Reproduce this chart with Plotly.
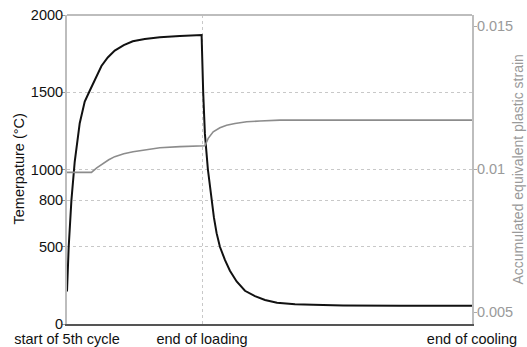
import plotly.graph_objects as go

# x positions: 0 = start of 5th cycle, 1 = end of loading, 3 = end of cooling
tick_vals_x = [0, 1, 3]
tick_text_x = ["start of 5th cycle", "end of loading", "end of cooling"]

time_T = [0.0, 0.0126, 0.0326, 0.0571, 0.0942, 0.1313, 0.1684, 0.2055, 0.2552, 0.3019,
          0.3538, 0.4206, 0.4874, 0.5764, 0.6877, 0.836, 0.997, 1.0088, 1.0214, 1.0437,
          1.0711, 1.0882, 1.1082, 1.1327, 1.1698, 1.2069, 1.2566, 1.3182, 1.3924, 1.4666,
          1.5556, 1.6891, 1.8227, 2.0452, 2.4681, 3.0]
temperature = [210, 500, 800, 1050, 1300, 1440, 1510, 1580, 1670, 1725,
               1770, 1805, 1830, 1845, 1856, 1864, 1870, 1500, 1232, 1000,
               802, 690, 588, 500, 415, 345, 275, 215, 180, 155,
               137, 128, 124, 120, 118, 118]

time_s = [0.0, 0.181, 0.2203, 0.267, 0.3093, 0.3538, 0.4206, 0.4896, 0.5764, 0.6877,
          0.836, 0.9844, 1.0214, 1.0459, 1.083, 1.1327, 1.1824, 1.244, 1.3308, 1.4294,
          1.5778, 3.0]
strain = [0.00989, 0.00989, 0.01005, 0.0102, 0.01033, 0.01044, 0.01054, 0.01061, 0.01068, 0.01075,
          0.01079, 0.01081, 0.01082, 0.01108, 0.01131, 0.01145, 0.01154, 0.0116, 0.01166, 0.01169,
          0.01172, 0.01172]

left_ticks = [0, 500, 800, 1000, 1500, 2000]
right_ticks = [0.005, 0.01, 0.015]
right_tick_text = ["0.005", "0.01", "0.015"]

FONT = "Liberation Sans, Arial, sans-serif"

fig = go.Figure()
fig.add_trace(go.Scatter(x=time_s, y=strain, mode="lines", yaxis="y2",
                         line=dict(color="#8c8c8c", width=1.6), showlegend=False))
fig.add_trace(go.Scatter(x=time_T, y=temperature, mode="lines",
                         line=dict(color="#111111", width=2), showlegend=False))

fig.update_layout(
    width=527, height=347,
    margin=dict(l=67, r=55, t=15, b=23),
    paper_bgcolor="white", plot_bgcolor="white",
    font=dict(family=FONT, size=14, color="#111"),
    xaxis=dict(range=[0, 3], tickvals=tick_vals_x, ticktext=tick_text_x,
               showline=True, linecolor="#555", linewidth=1.5,
               showgrid=True, gridcolor="#c8c8c8", griddash="dot", gridwidth=1,
               ticks="", zeroline=False, tickfont=dict(size=14.5, color="#111"),
               ticklabelstandoff=1, automargin=False),
    yaxis=dict(range=[0, 2000], tickvals=left_ticks,
               showline=True, linecolor="#bdbdbd", linewidth=2,
               ticks="outside", ticklen=3, tickcolor="#999",
               ticklabelstandoff=-4,
               showgrid=True, gridcolor="#c8c8c8", griddash="dot", gridwidth=1,
               zeroline=False, tickfont=dict(size=14.5, color="#111"),
               automargin=False),
    yaxis2=dict(range=[0.00458, 0.0154], tickvals=right_ticks, ticktext=right_tick_text,
                overlaying="y", side="right",
                showline=True, linecolor="#bdbdbd", linewidth=2,
                ticks="outside", ticklen=3, tickcolor="#aaa",
                ticklabelstandoff=-3,
                showgrid=False, zeroline=False,
                tickfont=dict(size=14.5, color="#9a9a9a"), automargin=False),
    shapes=[dict(type="line", xref="paper", yref="paper", x0=0, x1=1, y0=1, y1=1,
                 line=dict(color="#bdbdbd", width=2))],
    annotations=[
        dict(text="Temerpature (°C)", xref="paper", yref="paper", x=0, y=0.5,
             xanchor="center", yanchor="middle", xshift=-49, textangle=-90,
             showarrow=False, font=dict(size=14.5, color="#111")),
        dict(text="Accumulated equivalent plastic strain", xref="paper", yref="paper",
             x=1, y=0.5, xanchor="center", yanchor="middle", xshift=45, textangle=-90,
             showarrow=False, font=dict(size=14, color="#9a9a9a")),
    ],
)

fig.write_html("out.html")
